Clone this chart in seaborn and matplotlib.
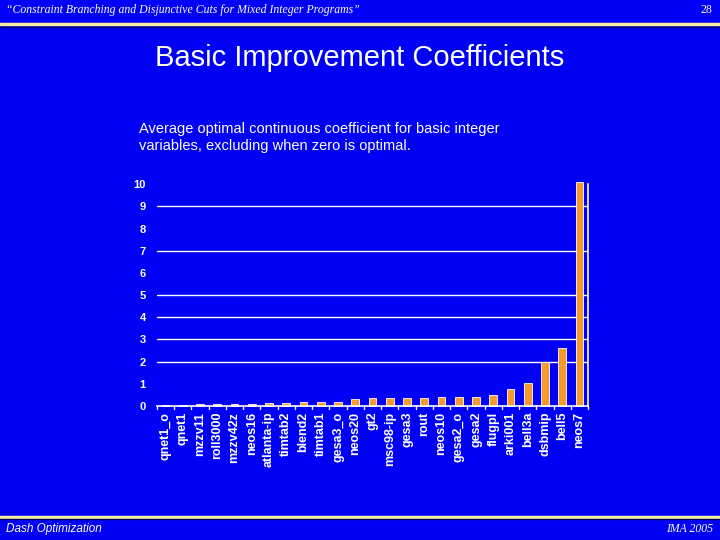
import matplotlib
matplotlib.use("Agg")
import matplotlib.pyplot as plt
import seaborn as sns

# instances, sorted by coefficient
instances = ["qnet1_o", "qnet1", "mzzv11", "roll3000", "mzzv42z", "neos16",
             "atlanta-ip", "timtab2", "blend2", "timtab1", "gesa3_o", "neos20",
             "gt2", "msc98-ip", "gesa3", "rout", "neos10", "gesa2_o", "gesa2",
             "flugpl", "arki001", "bell3a", "dsbmip", "bell5", "neos7"]
coef = [0.07, 0.07, 0.1, 0.1, 0.1, 0.1,
        0.16, 0.16, 0.2, 0.2, 0.2, 0.3,
        0.35, 0.35, 0.35, 0.35, 0.39, 0.39, 0.39,
        0.5, 0.75, 1.06, 2.0, 2.63, 10.1]
yticks = list(range(0, 11))
grid_at = [2, 3, 4, 5, 7, 9]

BG = "#0000F5"
BAR = "#F59A2C"

sns.set_theme(style="white")
plt.rcParams["font.family"] = ["Liberation Sans", "DejaVu Sans"]

fig = plt.figure(figsize=(7.2, 5.4), dpi=100, facecolor=BG)

# header / footer
fig.text(0.008, 0.981, "\u201cConstraint Branching and Disjunctive Cuts for Mixed Integer Programs\u201d",
         color="white", fontsize=8.5, style="italic", family="Liberation Serif", va="center")
fig.text(0.99, 0.981, "28", color="white", fontsize=8.5, family="Liberation Serif",
         va="center", ha="right")
fig.text(0.008, 0.02, "Dash Optimization", color="white", fontsize=8.5, style="italic", va="center")
fig.text(0.99, 0.02, "IMA 2005", color="white", fontsize=8.5, style="italic",
         family="Liberation Serif", va="center", ha="right")
for y in (0.955, 0.043):
    fig.add_artist(plt.Line2D([0, 1], [y, y], color="#F5F0A0", lw=2.5))
    fig.add_artist(plt.Line2D([0, 1], [y - 0.005, y - 0.005], color="#000060", lw=1))

fig.text(0.5, 0.892, "Basic Improvement Coefficients", color="white", fontsize=21,
         ha="center", va="center")
fig.text(0.193, 0.746, "Average optimal continuous coefficient for basic integer\n"
         "variables, excluding when zero is optimal.", color="white", fontsize=10.5,
         ha="left", va="center", linespacing=1.25)

ax = fig.add_axes([0.218, 0.248, 0.599, 0.411])
ax.set_facecolor(BG)
sns.barplot(x=instances, y=coef, ax=ax, color=BAR, width=0.45, saturation=1,
            edgecolor="white", linewidth=0.6)
for p in ax.patches:
    p.set_clip_on(False)

ax.set_ylim(0, 10)
ax.set_xlim(-0.5, len(instances) - 0.5)
ax.set_yticks(yticks)
ax.set_yticklabels([str(t) for t in yticks], fontsize=8, fontweight="bold", color="white")
ax.set_xticks(range(len(instances)))
ax.set_xticklabels(instances, fontsize=9, fontweight="bold", color="white", rotation=90)
for g in grid_at:
    ax.axhline(g, color="white", lw=1, zorder=0)

ax.tick_params(axis="x", length=0, pad=4)
ax.tick_params(axis="y", length=0, pad=8)

# category separator ticks on the bottom axis
for i in range(len(instances) + 1):
    ax.plot([i - 0.5, i - 0.5], [0, -0.15], color="white", lw=1, clip_on=False)

for side in ("top", "left"):
    ax.spines[side].set_visible(False)
for side in ("bottom", "right"):
    ax.spines[side].set_color("white")
    ax.spines[side].set_linewidth(1.2)

fig.savefig("out.png", dpi=100, facecolor=BG)
